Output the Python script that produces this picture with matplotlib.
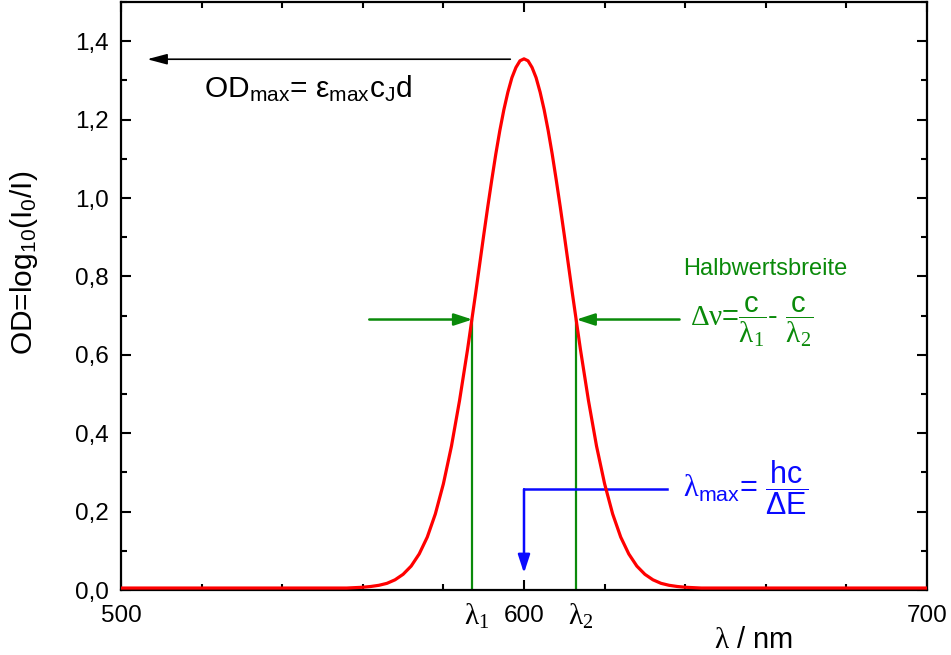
import numpy as np
import matplotlib
matplotlib.use("Agg")
import matplotlib.pyplot as plt
from matplotlib.ticker import MultipleLocator, FixedLocator, FuncFormatter

plt.rcParams['font.family'] = ['Liberation Sans', 'DejaVu Sans']
plt.rcParams['mathtext.fontset'] = 'custom'
plt.rcParams['mathtext.rm'] = 'Liberation Sans'
plt.rcParams['mathtext.it'] = 'Liberation Sans:italic'
plt.rcParams['mathtext.cal'] = 'Liberation Serif'
plt.rcParams['mathtext.default'] = 'rm'

# Absorptionsbande
wavelength = [500, 520, 540, 556, 560, 562, 564, 566, 568, 570, 572, 574, 576, 578,
              580, 582, 584, 586, 588, 590, 591, 592, 593, 594, 595, 596, 597, 598,
              599, 600, 601, 602, 603, 604, 605, 606, 607, 608, 609, 610, 612, 614,
              616, 618, 620, 622, 624, 626, 628, 630, 632, 634, 636, 638, 640, 644,
              660, 680, 700]
od = [0.005, 0.005, 0.005, 0.005, 0.007, 0.009, 0.012, 0.017, 0.026, 0.040, 0.061,
      0.092, 0.135, 0.194, 0.271, 0.367, 0.483, 0.614, 0.757, 0.905, 0.977, 1.046,
      1.112, 1.172, 1.225, 1.270, 1.307, 1.333, 1.350, 1.355, 1.350, 1.333, 1.307,
      1.270, 1.225, 1.172, 1.112, 1.046, 0.977, 0.905, 0.757, 0.614, 0.483, 0.367,
      0.271, 0.194, 0.135, 0.092, 0.061, 0.040, 0.026, 0.017, 0.012, 0.009, 0.007,
      0.005, 0.005, 0.005, 0.005]

lam_max = 600
od_max = 1.354
od_half = 0.69
lam1, lam2 = 587.2, 613.0

x_major = [500, 600, 700]
y_major = [0.0, 0.2, 0.4, 0.6, 0.8, 1.0, 1.2, 1.4]

RED = '#ff0000'
GREEN = '#0a8a0a'
BLUE = '#0a0aff'

fig = plt.figure(figsize=(9.51, 6.55), dpi=100, facecolor='white')
ax = fig.add_axes([121 / 951, 1 - 590 / 655, 806 / 951, 588 / 655])

ax.plot(wavelength, od, color=RED, lw=2.3, zorder=3)

ax.set_xlim(500, 700)
ax.set_ylim(0, 1.5)

# Achsen / Ticks
ax.xaxis.set_major_locator(FixedLocator(x_major))
ax.xaxis.set_minor_locator(MultipleLocator(20))
ax.yaxis.set_major_locator(FixedLocator(y_major))
ax.yaxis.set_minor_locator(MultipleLocator(0.1))
ax.yaxis.set_major_formatter(FuncFormatter(lambda v, p: f"{v:.1f}".replace('.', ',')))
ax.tick_params(which='both', direction='in', top=True, right=True, width=1.5,
               labelsize=17.5, colors='black')
ax.tick_params(which='major', length=7)
ax.tick_params(which='minor', length=4)
ax.tick_params(axis='x', pad=11)
ax.tick_params(axis='y', pad=9)
for s in ax.spines.values():
    s.set_linewidth(1.6)

ax.set_ylabel('OD=log$_{10}$(I$_0$/I)', fontsize=21.5)
ax.yaxis.set_label_coords(-0.100, 0.556)
ax.set_xlabel(r'$\mathcal{λ}$ / nm', fontsize=21)
ax.xaxis.set_label_coords(0.785, -0.062)

# lambda_1 / lambda_2 unter der Achse
for lam, idx in [(lam1, '1'), (lam2, '2')]:
    ax.annotate(r'$\mathcal{λ}_{\mathcal{' + idx + '}}$', xy=(lam, 0), xytext=(3, -8),
                textcoords='offset points', ha='center', va='top', fontsize=21,
                annotation_clip=False)

# OD_max Pfeil
ax.annotate('', xy=(506.5, od_max), xytext=(596.6, od_max),
            arrowprops=dict(arrowstyle='-|>,head_length=0.6,head_width=0.16',
                            color='black', lw=1.2, mutation_scale=20,
                            shrinkA=0, shrinkB=0))
ax.text(520.6, 1.256, r'OD$_{max}$= ε$_{max}$c$_{J}$d', fontsize=21.5,
        ha='left', va='baseline')

# Halbwertsbreite
ax.plot([lam1, lam1], [0, od_half], color=GREEN, lw=1.6, zorder=2)
ax.plot([lam2, lam2], [0, od_half], color=GREEN, lw=1.6, zorder=2)
for tail, tip in [(561.6, lam1), (638.6, lam2)]:
    ax.annotate('', xy=(tip, od_half), xytext=(tail, od_half),
                arrowprops=dict(arrowstyle='-|>,head_length=0.55,head_width=0.18',
                                color=GREEN, lw=1.8, mutation_scale=20,
                                shrinkA=0, shrinkB=0))
ax.text(639.4, 0.82, 'Halbwertsbreite', color=GREEN, fontsize=17,
        ha='left', va='center')
ax.text(641.2, 0.686,
        r'$\mathcal{Δν}$=$\dfrac{c}{\mathcal{λ}_{\mathcal{1}}}$- $\dfrac{c}{\mathcal{λ}_{\mathcal{2}}}$',
        color=GREEN, fontsize=21, ha='left', va='center')

# lambda_max
ax.plot([635.6, lam_max], [0.257, 0.257], color=BLUE, lw=1.8)
ax.annotate('', xy=(lam_max, 0.043), xytext=(lam_max, 0.257),
            arrowprops=dict(arrowstyle='-|>,head_length=0.55,head_width=0.18',
                            color=BLUE, lw=1.8, mutation_scale=20,
                            shrinkA=0, shrinkB=0))
ax.text(639.5, 0.262, r'$\mathcal{λ}_{max}$= $\dfrac{hc}{ΔE}$', color=BLUE,
        fontsize=22, ha='left', va='center')

fig.savefig('out.png', dpi=100, facecolor='white')
